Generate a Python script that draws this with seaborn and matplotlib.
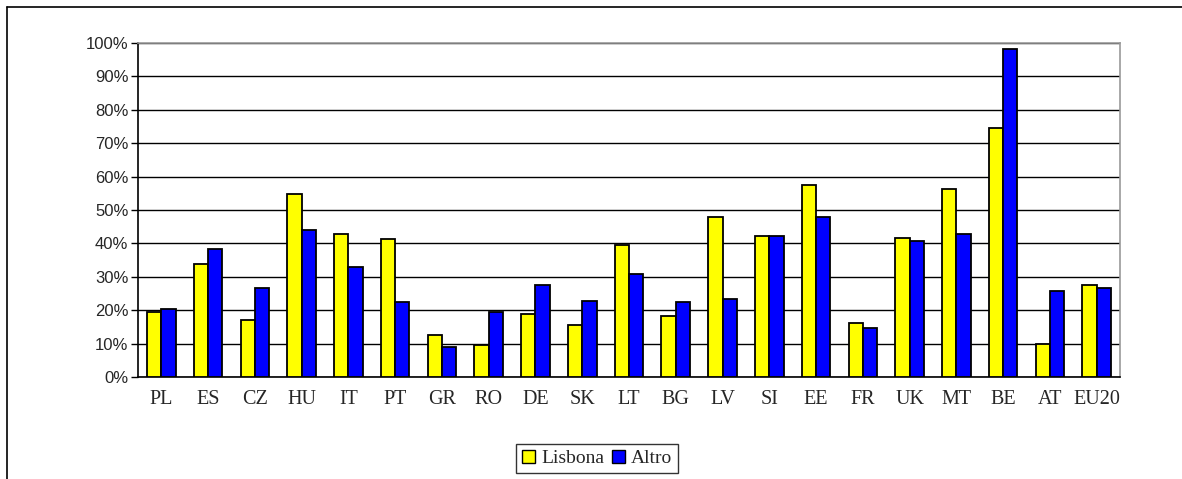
import matplotlib
matplotlib.use("Agg")
import matplotlib.pyplot as plt
import seaborn as sns
import pandas as pd
import numpy as np
from matplotlib.lines import Line2D
from matplotlib.ticker import FixedLocator, PercentFormatter
from matplotlib.patches import Patch

countries = ["PL", "ES", "CZ", "HU", "IT", "PT", "GR", "RO", "DE", "SK", "LT",
             "BG", "LV", "SI", "EE", "FR", "UK", "MT", "BE", "AT", "EU20"]
lisbona = [19.4, 33.9, 17.2, 54.8, 42.8, 41.2, 12.5, 9.5, 18.8, 15.6, 39.6,
           18.3, 47.9, 42.2, 57.4, 16.2, 41.7, 56.3, 74.6, 9.9, 27.6]
altro = [20.3, 38.2, 26.7, 43.9, 32.9, 22.5, 8.9, 19.4, 27.6, 22.9, 30.7,
         22.4, 23.5, 42.2, 47.9, 14.6, 40.6, 42.8, 98.1, 25.6, 26.6]
series_names = ["Lisbona", "Altro"]
colors = ["#FFFF00", "#0000FF"]

df = pd.DataFrame({
    "country": countries * 2,
    "value": lisbona + altro,
    "serie": [series_names[0]] * len(countries) + [series_names[1]] * len(countries),
})

sns.set_style("white")
W, H = 1182, 479
fig = plt.figure(figsize=(W / 100, H / 100), dpi=100)
ax = fig.add_axes([138 / W, 1 - 377 / H, (1120 - 138) / W, (377 - 43) / H])

sns.barplot(data=df, x="country", y="value", hue="serie", order=countries,
            hue_order=series_names, palette=colors, width=0.61,
            edgecolor="black", linewidth=1.3, saturation=1, ax=ax,
            legend=False, zorder=3)

ax.set_ylim(0, 100)
ax.set_xlim(-0.5, len(countries) - 0.5)
ax.set_yticks(np.arange(0, 101, 10))
ax.yaxis.set_major_formatter(PercentFormatter(decimals=0))
ax.grid(axis="y", color="black", linewidth=1.0, zorder=0)
ax.set_axisbelow(True)
ax.set_xlabel("")
ax.set_ylabel("")

# x ticks: labels at centers, tick marks between groups
ax.tick_params(axis="x", which="major", length=0, pad=9)
ax.xaxis.set_minor_locator(FixedLocator(np.arange(-0.5, len(countries), 1.0)))
ax.tick_params(axis="x", which="minor", length=5, width=1, color="#555555", direction="out")
ax.tick_params(axis="y", length=5, width=1, color="black", direction="out", pad=2, left=True)
for lab in ax.get_xticklabels():
    lab.set_fontfamily("Liberation Serif")
    lab.set_fontsize(14.5)
for lab in ax.get_yticklabels():
    lab.set_fontfamily("Liberation Sans")
    lab.set_fontsize(12)

for s in ["left", "bottom"]:
    ax.spines[s].set_color("black")
    ax.spines[s].set_linewidth(1.2)
for s in ["top", "right"]:
    ax.spines[s].set_color("#999999")
    ax.spines[s].set_linewidth(1.2)

handles = [Patch(facecolor=colors[i], edgecolor="black", linewidth=1.0, label=series_names[i])
           for i in range(2)]
leg = fig.legend(handles=handles, loc="center", bbox_to_anchor=(597 / W, 1 - 458.5 / H),
                 ncol=2, frameon=True, fancybox=False, edgecolor="black",
                 prop={"family": "Liberation Serif", "size": 14},
                 handlelength=0.7, handleheight=0.7, handletextpad=0.3,
                 columnspacing=0.4, borderpad=0.3)
leg.get_frame().set_linewidth(1.0)

# outer chart border (left and top visible)
fig.add_artist(Line2D([7 / W, 7 / W], [0, 1 - 7 / H], transform=fig.transFigure,
                      color="black", linewidth=1.2))
fig.add_artist(Line2D([7 / W, 1], [1 - 7 / H, 1 - 7 / H], transform=fig.transFigure,
                      color="black", linewidth=1.2))

fig.savefig("out.png", dpi=100)
